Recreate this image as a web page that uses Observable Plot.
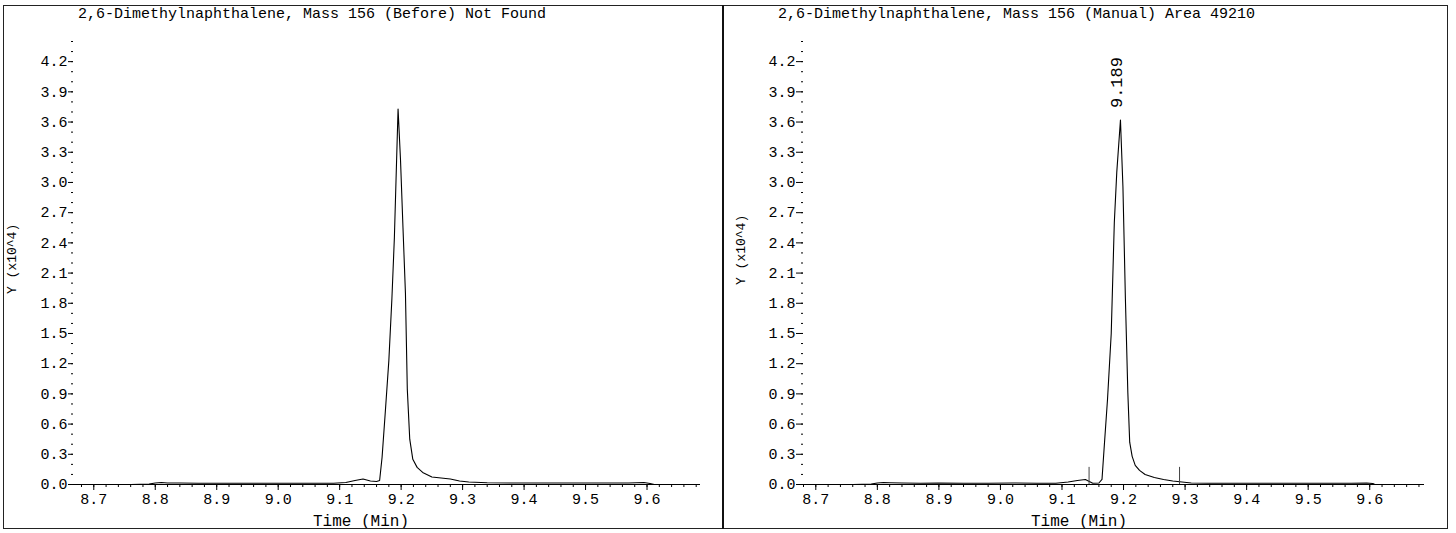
<!DOCTYPE html>
<html>
<head>
<meta charset="utf-8">
<script src="https://cdn.jsdelivr.net/npm/d3@7"></script>
<script src="https://cdn.jsdelivr.net/npm/@observablehq/plot@0.6"></script>
<style>
  body { margin: 0; background: #fff; }
  #page { position: relative; width: 1456px; height: 533px; overflow: hidden;
          font-family: "Liberation Mono", "DejaVu Sans Mono", monospace; color: #000; background: #fff; }
  .panel { position: absolute; top: 22px; }
  .title { position: absolute; top: 7px; font-size: 15px; line-height: 16px; white-space: pre; }
  .frame { position: absolute; left: 3px; top: 5px; width: 1443px; height: 522px; border: 1px solid #222; pointer-events: none; }
  .divider { position: absolute; left: 722px; top: 5px; width: 2px; height: 524px; background: #111; pointer-events: none; }
</style>
</head>
<body>
<div id="page">
  <div id="left" class="panel" style="left:0px"></div>
  <div id="right" class="panel" style="left:724px"></div>
  <div id="titleLeft" class="title" style="left:78px"></div>
  <div id="titleRight" class="title" style="left:778px"></div>
  <div class="frame"></div>
  <div class="divider"></div>
</div>
<script>
// ---- data (intensity in units of 10^4) ----
const time = [8.667, 8.69, 8.72, 8.76, 8.79, 8.80, 8.81, 8.82, 8.84, 8.87, 8.90, 8.94, 8.98, 9.02, 9.06, 9.09, 9.11, 9.125, 9.138, 9.15, 9.16, 9.165, 9.169, 9.174, 9.180, 9.185, 9.189, 9.195, 9.199, 9.203, 9.207, 9.210, 9.214, 9.219, 9.226, 9.235, 9.25, 9.265, 9.28, 9.295, 9.31, 9.34, 9.38, 9.42, 9.46, 9.50, 9.54, 9.57, 9.595, 9.605, 9.615, 9.63, 9.66, 9.689];
const beforeIntensity = [0, 0, 0, 0, 0.005, 0.015, 0.02, 0.015, 0.015, 0.012, 0.012, 0.012, 0.012, 0.012, 0.012, 0.012, 0.02, 0.04, 0.055, 0.035, 0.03, 0.04, 0.27, 0.7, 1.23, 1.85, 2.45, 3.73, 3.22, 2.55, 1.9, 0.95, 0.45, 0.25, 0.17, 0.12, 0.075, 0.065, 0.055, 0.035, 0.025, 0.018, 0.015, 0.015, 0.015, 0.015, 0.015, 0.015, 0.02, 0.01, -0.005, -0.01, -0.01, -0.01];
const manualIntensity = [0, 0, 0, 0, 0.005, 0.015, 0.02, 0.018, 0.015, 0.012, 0.015, 0.012, 0.012, 0.015, 0.012, 0.012, 0.025, 0.04, 0.05, 0.012, 0.015, 0.05, 0.41, 0.85, 1.5, 2.6, 3.1, 3.62, 2.96, 1.85, 0.91, 0.42, 0.28, 0.19, 0.14, 0.1, 0.07, 0.05, 0.035, 0.025, 0.015, 0.012, 0.012, 0.012, 0.012, 0.012, 0.012, 0.012, 0.015, 0.01, -0.02, -0.03, -0.03, -0.03];

const titleBefore = "2,6-Dimethylnaphthalene, Mass 156 (Before) Not Found";
const titleManual = "2,6-Dimethylnaphthalene, Mass 156 (Manual) Area 49210";
const xLabel = "Time (Min)";
const yLabel = "Y (x10^4)";

const xMajorTicks = [8.7, 8.8, 8.9, 9.0, 9.1, 9.2, 9.3, 9.4, 9.5, 9.6];
const yMajorTicks = [0, 0.3, 0.6, 0.9, 1.2, 1.5, 1.8, 2.1, 2.4, 2.7, 3.0, 3.3, 3.6, 3.9, 4.2];
const xMinorTicks = d3.range(868, 969, 2).map(d => d / 100);
const yMinorTicks = d3.range(1, 45).map(d => d / 10);

const peakTimes = [9.189];
const peakLabels = ["9.189"];
const peakHeights = [3.62];
const markerTimes = [9.144, 9.291];
const markerHeight = 0.17;

// ---- build ----
const font = "'Liberation Mono', 'DejaVu Sans Mono', monospace";
const before = time.map((t, i) => ({time: t, v: beforeIntensity[i]}));
const manual = time.map((t, i) => ({time: t, v: manualIntensity[i]}));
const peaks = peakTimes.map((t, i) => ({time: t, v: peakHeights[i], label: peakLabels[i]}));
const markers = markerTimes.map(t => ({time: t, y1: 0, y2: markerHeight}));

function chromatogram({width, marginLeft, marginRight, xDomain, data, yTickSize, xLabelDx, yLabelDx, yLabelDy, extra}) {
  return Plot.plot({
    width, height: 511,
    marginLeft, marginRight, marginTop: 19, marginBottom: 49,
    x: {domain: xDomain},
    y: {domain: [0, 4.4]},
    style: {fontFamily: font, fontSize: "15px", color: "#000", background: "transparent", overflow: "visible"},
    marks: [
      Plot.axisY(yMinorTicks, {tickSize: 2, tickFormat: () => "", label: null}),
      Plot.axisY(yMajorTicks, {tickSize: yTickSize, tickPadding: 1, tickFormat: d => d.toFixed(1), label: null}),
      Plot.axisX(xMinorTicks, {tickSize: 3, tickFormat: () => "", label: null}),
      Plot.axisX(xMajorTicks, {tickSize: 6, tickPadding: 3, tickFormat: d => d.toFixed(1), label: null}),
      Plot.ruleY([0], {stroke: "#000", strokeWidth: 1}),
      Plot.line(data, {x: "time", y: "v", stroke: "#000", strokeWidth: 1.1, clip: true}),
      Plot.text([xLabel], {frameAnchor: "bottom", dy: 41, dx: xLabelDx, fontSize: 16, fill: "#000"}),
      Plot.text([yLabel], {frameAnchor: "left", rotate: -90, dx: yLabelDx, dy: yLabelDy, fontSize: 13, fill: "#000"}),
      ...(extra || [])
    ]
  });
}

document.getElementById("titleLeft").textContent = titleBefore;
document.getElementById("titleRight").textContent = titleManual;

document.getElementById("left").append(chromatogram({
  width: 724, marginLeft: 73, marginRight: 24, xDomain: [8.667, 9.687],
  data: before, yTickSize: 5, xLabelDx: -26, yLabelDx: -62, yLabelDy: 31
}));

document.getElementById("right").append(chromatogram({
  width: 732, marginLeft: 79, marginRight: 32, xDomain: [8.68, 9.689],
  data: manual, yTickSize: 7, xLabelDx: -35, yLabelDx: -63, yLabelDy: 22,
  extra: [
    Plot.ruleX(markers, {x: "time", y1: "y1", y2: "y2", stroke: "#444", strokeWidth: 1}),
    Plot.text(peaks, {x: "time", y: "v", text: "label", rotate: -90, textAnchor: "start", dy: -12, fontSize: 17, fill: "#000"})
  ]
}));
</script>
</body>
</html>
